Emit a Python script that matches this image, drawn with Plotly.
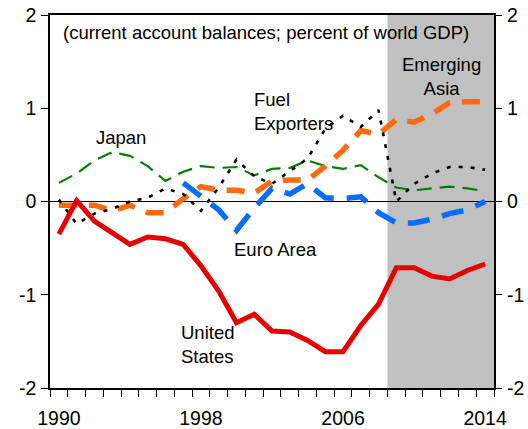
import plotly.graph_objects as go

# Current account balances, percent of world GDP
years = list(range(1990, 2015))

united_states = [-0.35, 0.01, -0.21, -0.33, -0.46, -0.38, -0.40, -0.46, -0.69, -0.96,
                 -1.30, -1.21, -1.39, -1.40, -1.49, -1.61, -1.61, -1.33, -1.10, -0.71,
                 -0.71, -0.80, -0.83, -0.74, -0.67]

japan = [0.20, 0.30, 0.44, 0.53, 0.49, 0.38, 0.22, 0.32, 0.38, 0.36,
         0.37, 0.28, 0.35, 0.36, 0.44, 0.38, 0.35, 0.39, 0.26, 0.15,
         0.12, 0.14, 0.16, 0.14, 0.11]

euro_area = [None, None, None, None, None, None, None, 0.20, 0.06, -0.09,
             -0.31, -0.07, 0.14, 0.08, 0.19, 0.04, 0.03, 0.05, -0.12, -0.23,
             -0.23, -0.19, -0.13, -0.09, 0.00]

emerging_asia = [-0.04, -0.04, -0.04, -0.10, -0.04, -0.12, -0.12, 0.03, 0.16, 0.12,
                 0.12, 0.09, 0.22, 0.23, 0.23, 0.38, 0.55, 0.76, 0.72, 0.88,
                 0.85, 0.94, 1.06, 1.07, 1.07]

fuel_exporters = [0.02, -0.24, -0.13, -0.08, 0.00, 0.04, 0.14, 0.08, -0.10, 0.15,
                  0.45, 0.27, 0.19, 0.33, 0.46, 0.78, 0.92, 0.80, 0.98, 0.00,
                  0.19, 0.30, 0.37, 0.37, 0.34]

x_labels = [1990, 1998, 2006, 2014]
y_ticks = [-2, -1, 0, 1, 2]
y_tick_text = ["-2", "-1", "0", "1", "2"]
forecast_start = 2008.5

FONT = "Arial, Liberation Sans, sans-serif"

fig = go.Figure()

series = [
    ("Japan", japan, "#008000", 2.2, "15px,8px"),
    ("Emerging Asia", emerging_asia, "#FF6A10", 5.5, "18px,12px"),
    ("Euro Area", euro_area, "#0A6CFF", 5.5, "22px,13px"),
    ("Fuel Exporters", fuel_exporters, "#000000", 2.6, "4px,8px"),
    ("United States", united_states, "#E80000", 5, "solid"),
]
for name, vals, color, width, dash in series:
    fig.add_trace(go.Scatter(
        x=years, y=vals, name=name, mode="lines",
        line=dict(color=color, width=width, dash=dash),
        connectgaps=False, showlegend=False, hoverinfo="skip",
    ))

# invisible companion trace so the right-hand axis is drawn
fig.add_trace(go.Scatter(x=[years[0]], y=[None], yaxis="y2", mode="lines",
                         showlegend=False, hoverinfo="skip"))

# shaded projection period and the zero line
fig.add_shape(type="rect", xref="x", yref="y domain",
              x0=forecast_start, x1=2014.5, y0=0, y1=1,
              fillcolor="#C0C0C0", line_width=0, layer="below")
fig.add_shape(type="line", xref="x domain", yref="y",
              x0=0, x1=1, y0=0, y1=0,
              line=dict(color="black", width=1.2), layer="below")

text_font = dict(family=FONT, size=18.5, color="black")
labels = [
    ("(current account balances; percent of world GDP)", 1990.12, 1.81, "left"),
    ("Japan", 1993.5, 0.69, "center"),
    ("Fuel<br>Exporters", 2000.87, 0.97, "left"),
    ("Emerging<br>Asia", 2011.55, 1.34, "center"),
    ("Euro Area", 1999.73, -0.52, "left"),
    ("United<br>States", 1996.76, -1.53, "left"),
]
for txt, xv, yv, anchor in labels:
    fig.add_annotation(x=xv, y=yv, xref="x", yref="y", text=txt,
                       showarrow=False, xanchor=anchor, yanchor="middle",
                       align=anchor, font=text_font)

axis_font = dict(family=FONT, size=19.5, color="black")
fig.update_layout(
    width=528, height=429,
    margin=dict(l=50, r=34, t=15, b=41, autoexpand=False),
    paper_bgcolor="white", plot_bgcolor="white",
    xaxis=dict(
        range=[1989.5, 2014.5], tickmode="array", tickvals=x_labels,
        ticks="", showgrid=False, zeroline=False, automargin=False,
        showline=True, mirror=True, linecolor="black", linewidth=1.5,
        tickfont=axis_font, ticklabelstandoff=12,
        minor=dict(ticks="outside", tickmode="linear", tick0=1989.5, dtick=1,
                   ticklen=7, tickwidth=1.2, tickcolor="black", showgrid=False),
    ),
    yaxis=dict(
        range=[-2, 2], tickmode="array", tickvals=y_ticks, ticktext=y_tick_text,
        ticks="outside", ticklen=7, tickwidth=1.2, tickcolor="black",
        showgrid=False, zeroline=False, automargin=False,
        showline=True, mirror=True, linecolor="black", linewidth=1.5,
        tickfont=axis_font, ticklabelstandoff=1,
    ),
    yaxis2=dict(
        range=[-2, 2], tickmode="array", tickvals=y_ticks, ticktext=y_tick_text,
        overlaying="y", side="right", anchor="x", automargin=False,
        ticks="outside", ticklen=7, tickwidth=1.2, tickcolor="black",
        showgrid=False, zeroline=False, showline=False,
        tickfont=axis_font, ticklabelstandoff=1,
    ),
)

fig.write_html("out.html")
